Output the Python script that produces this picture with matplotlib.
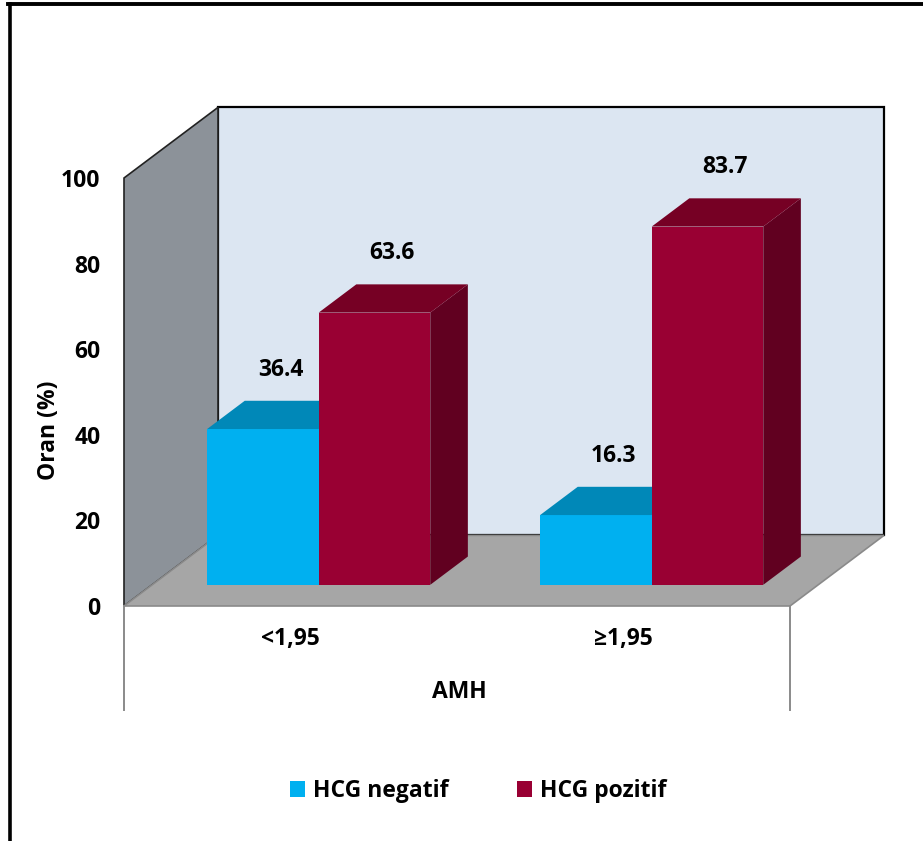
import matplotlib.pyplot as plt
from matplotlib.patches import Polygon, Patch
from matplotlib.lines import Line2D

plt.rcParams['font.family'] = ['Open Sans', 'DejaVu Sans']
plt.rcParams['font.weight'] = 'bold'

categories = ['<1,95', '\u22651,95']
series_names = ['HCG negatif', 'HCG pozitif']
hcg_negatif = [36.4, 16.3]
hcg_pozitif = [63.6, 83.7]
yticks = [0, 20, 40, 60, 80, 100]

front_colors = ['#00B0F0', '#990033']
top_colors = ['#0088B8', '#760024']
side_colors = ['#006E96', '#610020']

# oblique depth vector (x in category units, y in value units)
DX = 94 / 333
DY = 16.5
BAR_W = 0.335
D0, D1 = 0.30, 0.70
FS = 16.5


def proj(x, v, d):
    return (x + d * DX, v + d * DY)


fig = plt.figure(figsize=(9.23, 8.41), dpi=100)
ax = fig.add_axes([124 / 923, 235 / 841, 666 / 923, 428 / 841])
ax.set_xlim(0, 2)
ax.set_ylim(0, 100)
for s in ax.spines.values():
    s.set_visible(False)


def face(pts, fc, ec='none', lw=0, z=1):
    ax.add_patch(Polygon([proj(*p) for p in pts], closed=True, facecolor=fc,
                         edgecolor=ec, linewidth=lw, clip_on=False, zorder=z))


# walls and floor
face([(0, 0, 1), (2, 0, 1), (2, 100, 1), (0, 100, 1)], '#DCE6F2', 'black', 1.6)
face([(0, 0, 0), (0, 0, 1), (0, 100, 1), (0, 100, 0)], '#8C9299', '#222222', 1.2)
face([(0, 0, 0), (2, 0, 0), (2, 0, 1), (0, 0, 1)], '#A6A6A6', '#8A8A8A', 1.2)

# category separators under the floor
for xs in (0, 2):
    ax.plot([xs, xs], [0, -24.3], color='#8A8A8A', lw=1.4, clip_on=False)

# bars
series = [hcg_negatif, hcg_pozitif]
for i in range(len(categories)):
    center = i + 0.5
    for j, vals in enumerate(series):
        v = vals[i]
        x0 = center - BAR_W + j * BAR_W
        x1 = x0 + BAR_W
        face([(x1, 0, D0), (x1, 0, D1), (x1, v, D1), (x1, v, D0)], side_colors[j], z=2)
        face([(x0, 0, D0), (x1, 0, D0), (x1, v, D0), (x0, v, D0)], front_colors[j], z=2)
        face([(x0, v, D0), (x1, v, D0), (x1, v, D1), (x0, v, D1)], top_colors[j], z=2)
        lx, ly = proj((x0 + x1) / 2, v + 10.7, D0 + 0.19)
        ax.text(lx, ly, f'{v:.1f}', ha='center', va='center', fontsize=FS,
                fontweight='bold', zorder=5)

ax.set_yticks(yticks)
ax.set_xticks([0.5, 1.5], categories)
ax.tick_params(axis='both', length=0, labelsize=FS)
ax.tick_params(axis='y', pad=17)
ax.tick_params(axis='x', pad=15)
ax.set_ylabel('Oran (%)', fontsize=FS, fontweight='bold')
ax.yaxis.set_label_coords(-0.094, 0.411)
ax.set_xlabel('AMH', fontsize=FS, fontweight='bold')
ax.xaxis.set_label_coords(0.503, -0.174)

handles = [Patch(facecolor=c, edgecolor='none') for c in front_colors]
fig.legend(handles, series_names, loc='center', bbox_to_anchor=(478 / 923, 1 - 791 / 841),
           ncol=2, frameon=False, handlelength=0.65, handleheight=0.65,
           handletextpad=0.35, columnspacing=3.0,
           prop={'size': FS, 'weight': 'bold'})

# outer frame (left and top)
fig.add_artist(Line2D([9.5 / 923, 9.5 / 923], [0, 1 - 3.7 / 841], color='black', lw=2.6))
fig.add_artist(Line2D([8 / 923, 1], [1 - 3.7 / 841, 1 - 3.7 / 841], color='black', lw=2.8))

fig.savefig('out.png', dpi=100)
